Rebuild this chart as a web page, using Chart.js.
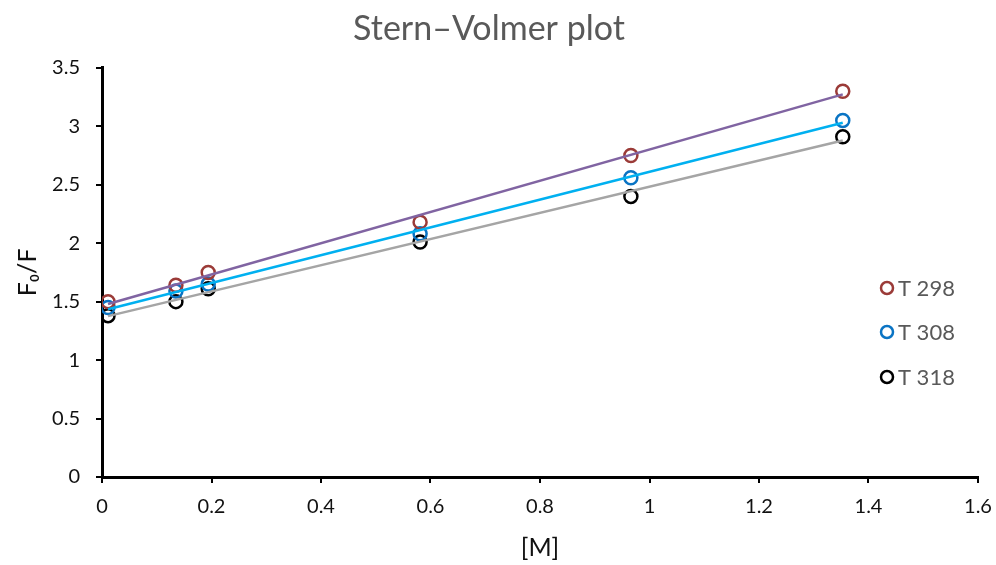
<!DOCTYPE html>
<html lang="en">
<head>
    <meta charset="UTF-8">
    <title>Stern–Volmer plot</title>
    <script src="https://cdn.jsdelivr.net/npm/chart.js"></script>
    <style>
        html, body { margin: 0; padding: 0; background: #fff; }
        #wrap { width: 996px; height: 565px; }
    </style>
</head>
<body>
<div id="wrap"><canvas id="svChart" width="996" height="565"></canvas></div>
<script>
    // concentration [M], shared by the three temperatures
    var conc = [0.011, 0.135, 0.194, 0.581, 0.966, 1.353];
    var t298 = [1.50, 1.64, 1.75, 2.18, 2.75, 3.30];
    var t308 = [1.45, 1.59, 1.65, 2.08, 2.56, 3.05];
    var t318 = [1.38, 1.50, 1.61, 2.01, 2.40, 2.91];
    var seriesNames = ['T 298', 'T 308', 'T 318'];
    var markerColors = ['#9b3b38', '#0a74c4', '#000000'];
    var lineColors = ['#8064a2', '#00b0f0', '#a5a5a5'];
    var yTicks = [0, 0.5, 1, 1.5, 2, 2.5, 3, 3.5];
    var xTicks = [0, 0.2, 0.4, 0.6, 0.8, 1, 1.2, 1.4, 1.6];

    var FONT = 'Lato, "Open Sans", sans-serif';

    // least squares trend line, from first to last x
    function trend(xs, ys) {
        var n = xs.length, mx = 0, my = 0;
        for (var i = 0; i < n; i++) { mx += xs[i]; my += ys[i]; }
        mx /= n; my /= n;
        var sxy = 0, sxx = 0;
        for (var i = 0; i < n; i++) {
            sxy += (xs[i] - mx) * (ys[i] - my);
            sxx += (xs[i] - mx) * (xs[i] - mx);
        }
        var b = sxy / sxx, a = my - b * mx;
        var x0 = xs[0], x1 = xs[n - 1];
        return [{x: x0, y: a + b * x0}, {x: x1, y: a + b * x1}];
    }

    function pts(xs, ys) {
        return xs.map(function (x, i) { return {x: x, y: ys[i]}; });
    }

    var allY = [t298, t308, t318];
    var datasets = [];
    allY.forEach(function (ys, i) {
        datasets.push({
            type: 'line',
            label: seriesNames[i] + ' trend',
            data: trend(conc, ys),
            borderColor: lineColors[i],
            borderWidth: 2.5,
            pointRadius: 0,
            fill: false,
            order: 0
        });
        datasets.push({
            type: 'scatter',
            label: seriesNames[i],
            data: pts(conc, ys),
            borderColor: markerColors[i],
            backgroundColor: 'rgba(0,0,0,0)',
            borderWidth: 2.5,
            pointRadius: 6.5,
            pointHoverRadius: 6.5,
            order: 1
        });
    });

    // legend drawn inside the plot area, on the right
    var sideLegend = {
        id: 'sideLegend',
        afterDraw: function (chart) {
            var ctx = chart.ctx;
            var ys = [288, 332, 377];
            ctx.save();
            seriesNames.forEach(function (name, i) {
                ctx.beginPath();
                ctx.arc(887, ys[i], 6, 0, Math.PI * 2);
                ctx.lineWidth = 2.5;
                ctx.strokeStyle = markerColors[i];
                ctx.stroke();
                ctx.fillStyle = '#595959';
                ctx.font = '22px ' + FONT;
                ctx.textBaseline = 'middle';
                ctx.textAlign = 'left';
                ctx.fillText(name, 898, ys[i] + 1);
            });
            ctx.restore();
        }
    };

    function plain(v) { return String(v); }

    var svChart = new Chart(document.getElementById('svChart').getContext('2d'), {
        data: {datasets: datasets},
        plugins: [sideLegend],
        options: {
            responsive: false,
            animation: false,
            layout: {padding: {left: 0, right: 18, top: 0, bottom: 0}},
            plugins: {
                legend: {display: false},
                tooltip: {enabled: false},
                title: {
                    display: true,
                    text: 'Stern–Volmer plot',
                    color: '#595959',
                    font: {family: FONT, size: 34, weight: 'normal'},
                    padding: {top: 9, bottom: 18}
                }
            },
            scales: {
                x: {
                    type: 'linear',
                    min: 0, max: 1.6,
                    afterBuildTicks: function (s) { s.ticks = xTicks.map(function (v) { return {value: v}; }); },
                    afterFit: function (s) { s.height = 88; s.paddingLeft = 0; s.paddingRight = 0; },
                    grid: {display: true, drawOnChartArea: false, drawTicks: true, tickLength: 6, color: '#000', lineWidth: 2},
                    border: {display: true, color: '#000', width: 3},
                    ticks: {color: '#111', font: {family: FONT, size: 20}, padding: 12, maxRotation: 0, callback: plain},
                    title: {display: true, text: '[M]', color: '#111', font: {family: FONT, size: 25}, padding: {top: 2, bottom: 2}}
                },
                y: {
                    type: 'linear',
                    min: 0, max: 3.5,
                    afterBuildTicks: function (s) { s.ticks = yTicks.map(function (v) { return {value: v}; }); },
                    afterFit: function (s) { s.width = 102; },
                    grid: {display: true, drawOnChartArea: false, drawTicks: true, tickLength: 6, color: '#000', lineWidth: 2},
                    border: {display: true, color: '#000', width: 3},
                    ticks: {color: '#111', font: {family: FONT, size: 20}, padding: 16, callback: plain},
                    title: {display: true, text: 'F₀/F', color: '#111', font: {family: FONT, size: 25}, padding: {top: 13, bottom: 2}}
                }
            }
        }
    });
</script>
</body>
</html>
